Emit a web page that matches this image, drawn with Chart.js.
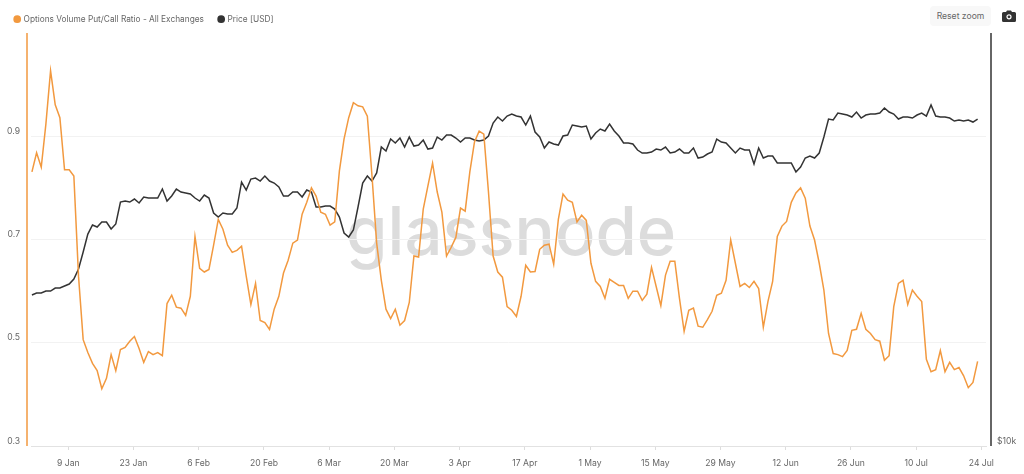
<!DOCTYPE html>
<html>
<head>
<meta charset="utf-8">
<title>Options Volume Put/Call Ratio</title>
<script src="https://cdn.jsdelivr.net/npm/chart.js@4"></script>
<style>
  html, body { margin: 0; padding: 0; background: #fff; overflow: hidden; }
  #wrap { position: relative; width: 1024px; height: 474px; font-family: Inter, sans-serif; }
  #mark { position: absolute; left: 346px; top: 191px; font: 500 67px Inter, sans-serif; line-height: 80px; color: #dcdcdc; }
  canvas { position: absolute; left: 0; top: 0; }
  #reset { position: absolute; left: 930px; top: 6px; width: 61px; height: 20px; line-height: 20px; text-align: center;
    background: #f8f8f8; border-radius: 4px; font-size: 8.6px; color: #666; }
  #camera { position: absolute; left: 1002px; top: 10px; }
</style>
</head>
<body>
<div id="wrap">
  <div id="mark">glassnode</div>
  <canvas id="chart" width="1024" height="474"></canvas>
  <div id="reset">Reset zoom</div>
  <svg id="camera" width="14" height="12" viewBox="0 0 14 12">
    <path d="M1.5 2H4L5 .5h4L10 2h2.5A1.5 1.5 0 0 1 14 3.5v7a1.5 1.5 0 0 1-1.5 1.5h-11A1.5 1.5 0 0 1 0 10.500v-7A1.500 1.500 0 0 1 1.500 2z" fill="#333"/>
    <circle cx="7" cy="6.800" r="2" fill="none" stroke="#fff" stroke-width="1.200"/>
  </svg>
</div>
<script>
const ratioLabel = "Options Volume Put/Call Ratio - All Exchanges";
const priceLabel = "Price [USD]";

// one value per day, 1 Jan to 23 Jul
const ratioValues = [
  0.831,0.868,0.840,0.924,1.027,0.961,0.936,0.835,0.835,0.823,0.629,0.506,0.481,0.460,0.446,0.411,0.431,0.477,0.446,0.487,
  0.491,0.503,0.512,0.489,0.462,0.483,0.477,0.481,0.475,0.576,0.592,0.569,0.567,0.553,0.590,0.706,0.644,0.637,0.642,0.689,
  0.739,0.720,0.689,0.675,0.679,0.687,0.629,0.574,0.615,0.543,0.539,0.526,0.565,0.590,0.635,0.660,0.693,0.699,0.749,0.772,
  0.800,0.784,0.753,0.749,0.728,0.734,0.833,0.895,0.936,0.965,0.959,0.957,0.939,0.823,0.693,0.621,0.565,0.547,0.565,0.534,
  0.543,0.578,0.668,0.666,0.759,0.804,0.848,0.792,0.753,0.668,0.685,0.704,0.761,0.755,0.831,0.889,0.910,0.904,0.792,0.668,
  0.637,0.627,0.570,0.563,0.551,0.590,0.650,0.637,0.638,0.681,0.689,0.691,0.652,0.739,0.788,0.776,0.772,0.734,0.747,0.737,
  0.654,0.619,0.609,0.586,0.623,0.617,0.611,0.611,0.586,0.600,0.600,0.582,0.594,0.646,0.609,0.572,0.631,0.658,0.658,0.586,
  0.522,0.563,0.567,0.532,0.530,0.545,0.561,0.592,0.596,0.621,0.699,0.654,0.609,0.615,0.607,0.619,0.605,0.530,0.580,0.619,
  0.706,0.726,0.735,0.772,0.790,0.800,0.780,0.726,0.699,0.654,0.602,0.518,0.479,0.477,0.473,0.485,0.524,0.526,0.557,0.526,
  0.518,0.506,0.503,0.466,0.475,0.570,0.615,0.621,0.574,0.602,0.590,0.580,0.468,0.444,0.448,0.485,0.444,0.462,0.448,0.452,
  0.436,0.413,0.423,0.464
];
const priceValues = [
  16600,16712,16712,16824,16824,16993,16993,17108,17224,17515,18113,19177,20370,20996,20855,21210,21210,20715,21067,22682,
  22758,22682,22911,22606,23065,22988,22988,22988,23693,22758,23142,23693,23456,23377,23298,22988,22758,23220,22988,21859,
  21568,21859,21786,21786,22229,24254,23614,24500,24583,24336,24749,24336,24173,23852,23142,23142,23456,23456,23065,23614,
  23456,22304,22304,22379,22379,22154,21568,20438,20168,20646,22304,24173,24749,24336,25005,27279,26916,28021,27648,28115,
  27279,28210,27371,27463,27927,27097,27188,28210,27927,28400,28400,28115,27741,28115,28115,27927,27834,27927,28305,29568,
  30169,29767,30270,30473,30270,30169,29369,30270,28688,28210,27188,27741,27555,27463,28305,28400,29369,29271,29173,29271,
  28021,28592,28978,28784,29468,28784,28305,27648,27648,27555,27006,26736,26736,26826,27097,27006,27279,26736,26826,27097,
  26736,26736,27188,26291,26379,26646,26826,28021,27741,27648,27188,26736,27188,27006,27006,25766,27188,26291,26467,26467,
  25853,25853,25853,25853,25089,25510,26291,26467,26291,26736,28210,29967,29867,30575,30473,30372,30169,30678,30068,30372,
  30473,30473,30575,31093,30678,30473,29967,30169,30169,30068,30372,30575,30270,31408,30270,30169,30169,30068,29767,29867,
  29767,29867,29667,29967
];

const xTickLabels = ["9 Jan","23 Jan","6 Feb","20 Feb","6 Mar","20 Mar","3 Apr","17 Apr","1 May","15 May","29 May","12 Jun","26 Jun","10 Jul","24 Jul"];
const xTickDays = [8,22,36,50,64,78,92,106,120,134,148,162,176,190,204];
const yTicksShown = ["0.3","0.5","0.7","0.9"];

const ORANGE = "#f2993f";
const DARK = "#333333";
const TEXT = "#666666";
const tickFont = { family: "Inter", size: 8.6 };
const legendFont = { family: "Inter", size: 8.3 };

// daily samples sit a little after midnight on the time axis
const toPoints = (values) => values.map((v, i) => ({ x: i + 0.2, y: v }));

// the two axis lines stand off from the plot area
const axisLines = {
  id: "axisLines",
  beforeInit(chart) {
    const fit = chart.legend.fit;
    chart.legend.fit = function () {
      fit.call(this);
      this.height = 33;
    };
  },
  afterDraw(chart) {
    const { ctx, chartArea } = chart;
    ctx.save();
    ctx.lineWidth = 1.5;
    ctx.strokeStyle = ORANGE;
    ctx.beginPath();
    ctx.moveTo(chartArea.left - 4, chartArea.top);
    ctx.lineTo(chartArea.left - 4, chartArea.bottom);
    ctx.stroke();
    ctx.strokeStyle = DARK;
    ctx.beginPath();
    ctx.moveTo(chartArea.right + 5, chartArea.top);
    ctx.lineTo(chartArea.right + 5, chartArea.bottom);
    ctx.stroke();
    ctx.restore();
  }
};

new Chart(document.getElementById("chart"), {
  type: "line",
  data: {
    datasets: [
      { label: ratioLabel, data: toPoints(ratioValues), yAxisID: "y", borderColor: ORANGE, backgroundColor: ORANGE, borderWidth: 1.5, pointRadius: 0, tension: 0 },
      { label: priceLabel, data: toPoints(priceValues), yAxisID: "y2", borderColor: DARK, backgroundColor: DARK, borderWidth: 1.5, pointRadius: 0, tension: 0 }
    ]
  },
  options: {
    responsive: false,
    animation: false,
    layout: { padding: 0 },
    plugins: {
      tooltip: { enabled: false },
      legend: {
        align: "start",
        labels: { usePointStyle: true, pointStyle: "circle", boxWidth: 4.4, boxHeight: 4.4, padding: 15, color: TEXT, font: legendFont }
      }
    },
    scales: {
      x: {
        type: "linear",
        min: 0,
        max: 205,
        afterBuildTicks: (axis) => { axis.ticks = xTickDays.map((d) => ({ value: d })); },
        afterFit: (axis) => { axis.height = 28; },
        ticks: {
          autoSkip: false,
          maxRotation: 0,
          padding: 8,
          color: TEXT,
          font: tickFont,
          callback: (v) => xTickLabels[xTickDays.indexOf(v)]
        },
        grid: { drawOnChartArea: false, tickLength: 4, tickColor: "#dddddd" },
        border: { color: "#e2e2e2" }
      },
      y: {
        position: "left",
        min: 0.3,
        max: 1.1,
        afterFit: (axis) => { axis.width = 31; },
        ticks: {
          stepSize: 0.1,
          autoSkip: false,
          padding: 11,
          labelOffset: -5,
          color: TEXT,
          font: tickFont,
          callback: (v) => (yTicksShown.includes(v.toFixed(1)) ? v.toFixed(1) : null)
        },
        grid: { color: "#f2f2f2", drawTicks: false },
        border: { display: false }
      },
      y2: {
        type: "logarithmic",
        position: "right",
        min: 10000,
        max: 40000,
        afterBuildTicks: (axis) => { axis.ticks = [{ value: 10000 }]; },
        afterFit: (axis) => { axis.width = 38; },
        ticks: {
          padding: 11,
          labelOffset: -5,
          color: TEXT,
          font: tickFont,
          callback: () => "$10k"
        },
        grid: { display: false, drawTicks: false },
        border: { display: false }
      }
    }
  },
  plugins: [axisLines]
});
</script>
</body>
</html>
